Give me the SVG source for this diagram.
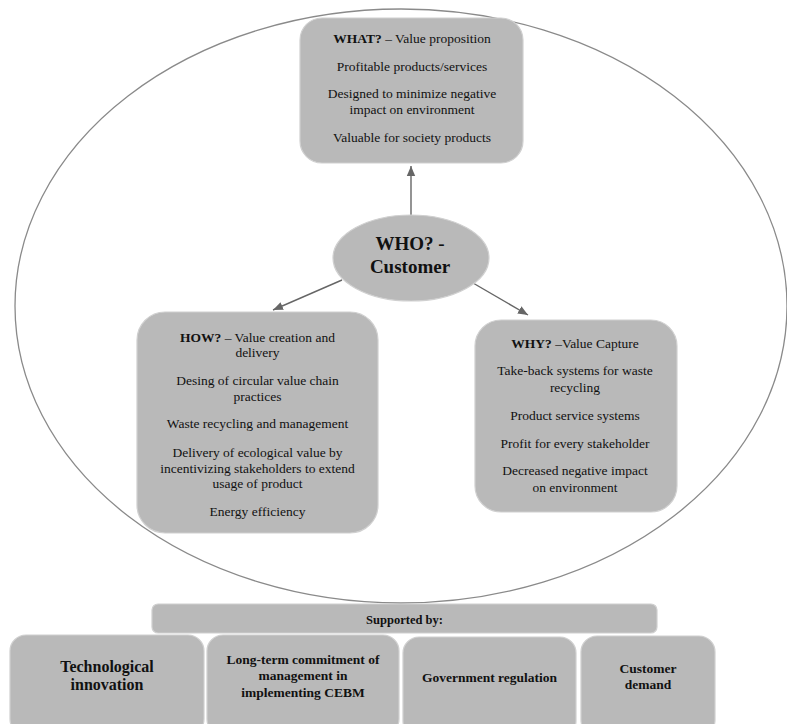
<svg xmlns="http://www.w3.org/2000/svg" width="787" height="724" viewBox="0 0 787 724">
<defs>
<style>
.box{fill:#b9b9b9;stroke:#d0d0d0;stroke-width:1.2}
.t{font-family:"Liberation Serif","Times New Roman",serif;font-size:13.5px;fill:#111;text-anchor:middle}
.b{font-weight:bold}
.big{font-size:19px}
.l16{font-size:16px}
.s12{font-size:12.5px}
.conn{stroke:#666;stroke-width:1.4;fill:none}
</style>
<marker id="arr" markerUnits="userSpaceOnUse" markerWidth="10" markerHeight="10" viewBox="0 0 10 10" refX="10" refY="5" orient="auto">
<path d="M0,0.8 L10,5 L0,9.2 Z" fill="#666"/>
</marker>
</defs>
<rect width="787" height="724" fill="#fff"/>
<ellipse id="boundary" cx="401" cy="306" rx="386" ry="297" fill="none" stroke="#8a8a8a" stroke-width="1.3"/>

<g id="connectors">
<line class="conn" x1="411" y1="215" x2="411" y2="166" marker-end="url(#arr)"/>
<line class="conn" x1="342" y1="280" x2="273" y2="310" marker-end="url(#arr)"/>
<line class="conn" x1="473" y1="283" x2="528" y2="315" marker-end="url(#arr)"/>
</g>

<g id="what">
<rect class="box" x="300" y="18" width="223" height="145" rx="22"/>
<text class="t" x="412" y="43"><tspan class="b">WHAT?</tspan> – Value proposition</text>
<text class="t" x="412" y="71">Profitable products/services</text>
<text class="t" x="412" y="98">Designed to minimize negative</text>
<text class="t" x="412" y="114">impact on environment</text>
<text class="t" x="412" y="142">Valuable for society products</text>
</g>

<g id="who">
<ellipse class="box" cx="411" cy="258" rx="78" ry="43"/>
<text class="t b big" x="410" y="250">WHO? -</text>
<text class="t b big" x="410" y="273">Customer</text>
</g>

<g id="how">
<rect class="box" x="137" y="312" width="241" height="221" rx="28"/>
<text class="t" x="257.5" y="342"><tspan class="b">HOW?</tspan> – Value creation and</text>
<text class="t" x="257.5" y="357">delivery</text>
<text class="t" x="257.5" y="385">Desing of circular value chain</text>
<text class="t" x="257.5" y="401">practices</text>
<text class="t" x="257.5" y="428">Waste recycling and management</text>
<text class="t" x="257.5" y="457">Delivery of ecological value by</text>
<text class="t" x="257.5" y="473">incentivizing stakeholders to extend</text>
<text class="t" x="257.5" y="488">usage of product</text>
<text class="t" x="257.5" y="516">Energy efficiency</text>
</g>

<g id="why">
<rect class="box" x="475" y="320" width="202" height="192" rx="26"/>
<text class="t" x="575" y="348"><tspan class="b">WHY?</tspan> –Value Capture</text>
<text class="t" x="575" y="375">Take-back systems for waste</text>
<text class="t" x="575" y="392">recycling</text>
<text class="t" x="575" y="420">Product service systems</text>
<text class="t" x="575" y="448">Profit for every stakeholder</text>
<text class="t" x="575" y="475">Decreased negative impact</text>
<text class="t" x="575" y="492">on environment</text>
</g>

<g id="supported">
<rect class="box" x="152" y="604" width="505" height="29" rx="6"/>
<text class="t b s12" x="404.5" y="624">Supported by:</text>
</g>

<g id="tech">
<rect class="box" x="10" y="635" width="194" height="100" rx="16"/>
<text class="t b l16" x="107" y="672">Technological</text>
<text class="t b l16" x="107" y="690">innovation</text>
</g>

<g id="commitment">
<rect class="box" x="207" y="635" width="192" height="100" rx="16"/>
<text class="t b" x="303" y="664">Long-term commitment of</text>
<text class="t b" x="303" y="680">management in</text>
<text class="t b" x="303" y="697">implementing CEBM</text>
</g>

<g id="government">
<rect class="box" x="403" y="637" width="173" height="100" rx="16"/>
<text class="t b" x="489.5" y="682">Government regulation</text>
</g>

<g id="demand">
<rect class="box" x="581" y="636" width="134" height="100" rx="16"/>
<text class="t b" x="648" y="673">Customer</text>
<text class="t b" x="648" y="689">demand</text>
</g>
</svg>
